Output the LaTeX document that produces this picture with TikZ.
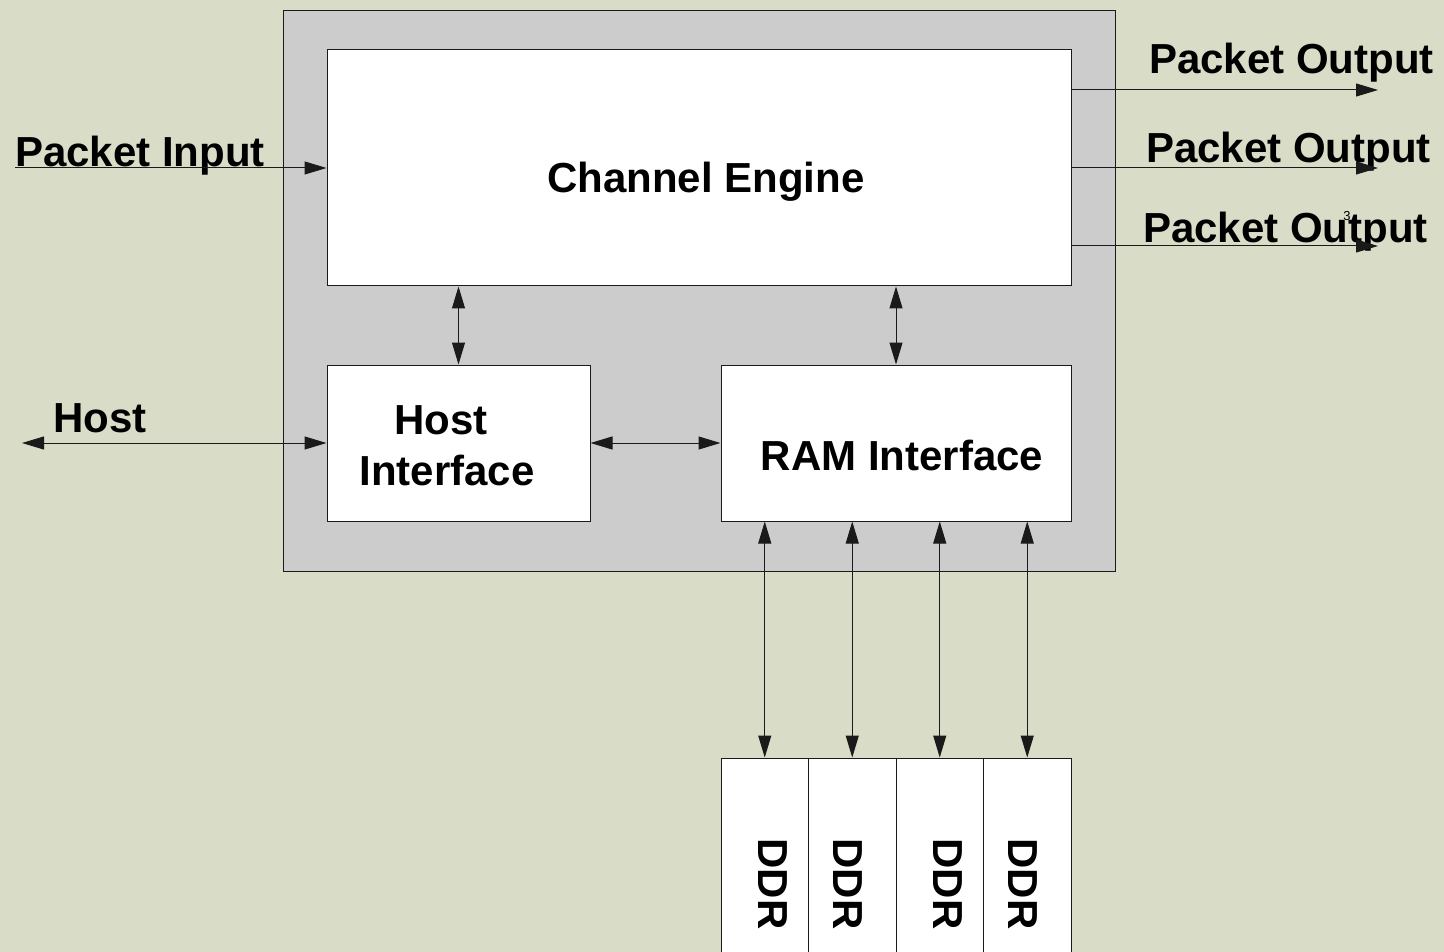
\documentclass[tikz,border=0pt]{standalone}
\usepackage{fontspec}
\setmainfont{Liberation Sans}
\usetikzlibrary{arrows.meta}
\definecolor{bgcol}{HTML}{D9DCC6}
\definecolor{graybox}{HTML}{CCCCCC}
\definecolor{linecol}{HTML}{1A1A1A}
\begin{document}
\begin{tikzpicture}[x=1pt,y=-1pt,
  lbl/.style={font=\fontsize{42}{51}\selectfont\bfseries, inner sep=0pt, text=black},
  blockbox/.style={draw=linecol, fill=white, line width=1pt, inner sep=0pt},
  uni/.style={draw=linecol, line width=1pt, -{Triangle[length=22pt,width=13pt]}},
  bidi/.style={draw=linecol, line width=1pt, {Triangle[length=22pt,width=13pt]}-{Triangle[length=22pt,width=13pt]}}
]
\fill[bgcol] (0,0) rectangle (1444,952);
\useasboundingbox (0,0) rectangle (1444,952);

% outer gray box
\node[draw=linecol, fill=graybox, line width=1pt, minimum width=832pt, minimum height=560pt, inner sep=0pt] (outer) at (699,291) {};

% blocks
\node[blockbox, minimum width=744pt, minimum height=236pt] (ce) at (699,168) {};
\node[blockbox, minimum width=263pt, minimum height=156pt] (hi) at (458.5,443) {};
\node[blockbox, minimum width=350pt, minimum height=156pt] (ram) at (896,443) {};

% DDR boxes
\node[blockbox, minimum width=87.5pt, minimum height=204pt] (d1) at (764.75,860) {};
\node[blockbox, minimum width=87.5pt, minimum height=204pt] (d2) at (852.25,860) {};
\node[blockbox, minimum width=87.5pt, minimum height=204pt] (d3) at (939.75,860) {};
\node[blockbox, minimum width=87.5pt, minimum height=204pt] (d4) at (1027.25,860) {};

% texts
\node[lbl, anchor=base] (cetext) at (706,193) {Channel Engine};
\node[lbl, anchor=base] (hitext1) at (441,434) {Host};
\node[lbl, anchor=base] (hitext2) at (447,485) {Interface};
\node[lbl, anchor=base] (ramtext) at (902,470) {RAM Interface};
\node[lbl, rotate=-90] (d1t) at (772.5,884) {DDR};
\node[lbl, rotate=-90] (d2t) at (847.5,884) {DDR};
\node[lbl, rotate=-90] (d3t) at (947.5,884) {DDR};
\node[lbl, rotate=-90] (d4t) at (1022.5,884) {DDR};

\node[lbl, anchor=base west] (pin) at (15,167) {Packet Input};
\node[lbl, anchor=base west] (hostl) at (53,432) {Host};
\node[lbl, anchor=base west] (po1) at (1149,74) {Packet Output};
\node[lbl, anchor=base west] (po2) at (1146,163) {Packet Output};
\node[lbl, anchor=base west] (po3) at (1143,243) {Packet Output};
\node[font=\fontsize{13}{15}\selectfont, inner sep=0pt] (three) at (1347,216) {3};

% free ends
\coordinate (pinstart) at (15,168);
\coordinate (hoststart) at (22,443);
\coordinate (o1) at (1378,90);
\coordinate (o2) at (1378,168);
\coordinate (o3) at (1378,246);

% connectors
\draw[uni] (pinstart) -- (ce.west);
\draw[bidi] (hoststart) -- (hi.west);
\draw[uni] (ce.east |- o1) -- (o1);
\draw[uni] (ce.east) -- (o2);
\draw[uni] (ce.east |- o3) -- (o3);
\draw[bidi] (hi.north) -- (hi.north |- ce.south);
\draw[bidi] (ram.north) -- (ram.north |- ce.south);
\draw[bidi] (hi.east) -- (ram.west);
\draw[bidi] (d1.north |- ram.south) -- (d1.north);
\draw[bidi] (d2.north |- ram.south) -- (d2.north);
\draw[bidi] (d3.north |- ram.south) -- (d3.north);
\draw[bidi] (d4.north |- ram.south) -- (d4.north);
\end{tikzpicture}
\end{document}
